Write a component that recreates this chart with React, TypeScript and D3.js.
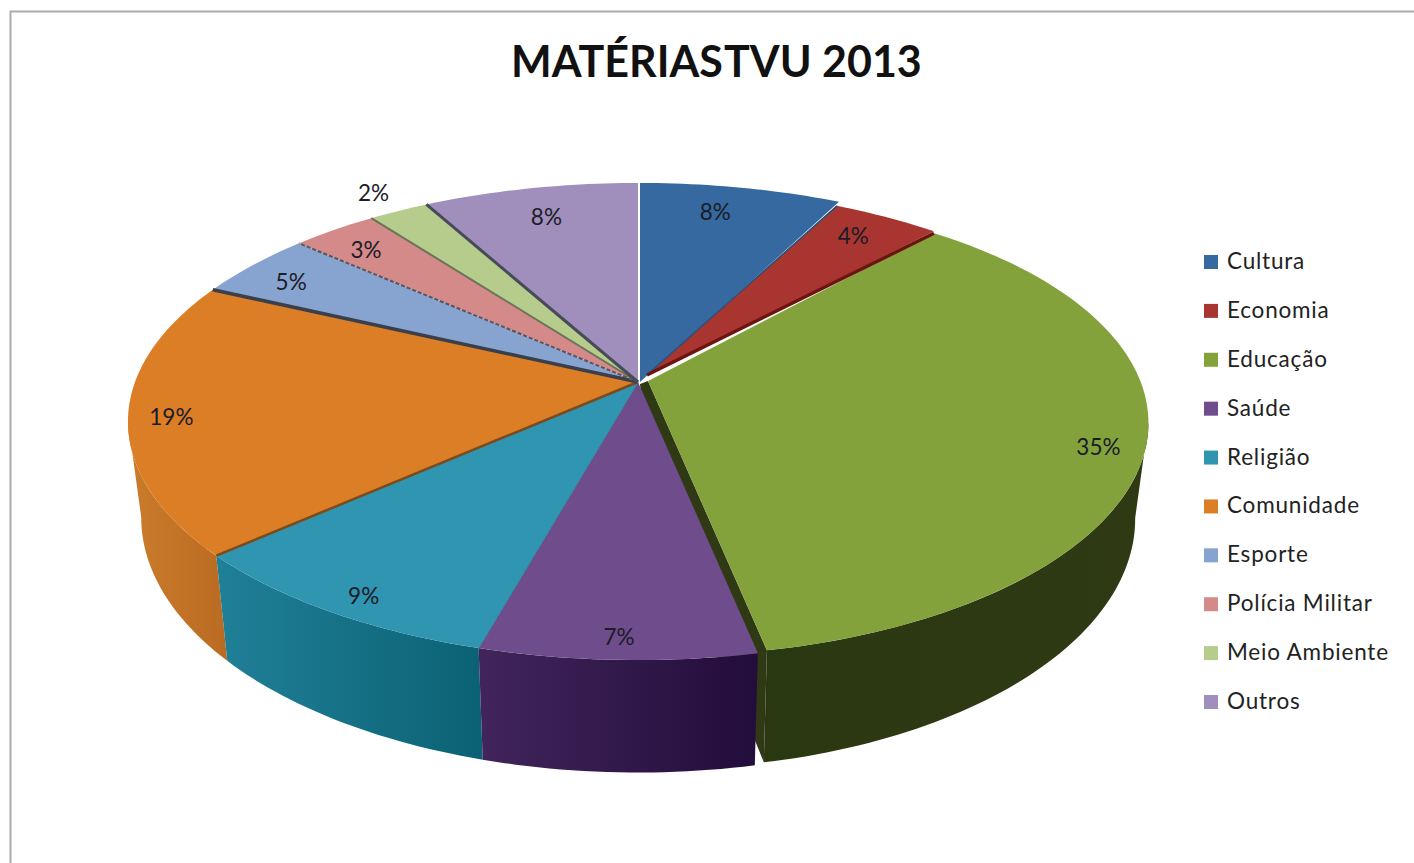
import React from "react";
import * as d3 from "d3";

const categories = ["Cultura", "Economia", "Educação", "Saúde", "Religião", "Comunidade", "Esporte", "Polícia Militar", "Meio Ambiente", "Outros"];
const shares = [7.5, 4.0, 35.3, 7.49, 9.11, 18.6, 4.55, 3.2, 2.25, 8.0];
const topColors = ["#35699F", "#A8352F", "#83A23C", "#6F4C8C", "#2F95B0", "#DB7E26", "#87A3CF", "#D58A8A", "#B5CC8C", "#A08FBC"];
const wallLeft = ["#333", "#333", "#2A3812", "#40245A", "#1F7F97", "#CB7B2B", "#333", "#333", "#333", "#333"];
const wallRight = ["#333", "#333", "#2F3A14", "#230D3C", "#0B6173", "#B96B22", "#333", "#333", "#333", "#333"];
const labelRadius = [0.85, 0.85, 0.915, 0.93, 0.93, 0.917, 0.875, 0.866, 1.12, 0.83];
const labelNudge = [-0.45, 0, 0.6, 0, -0.35, -0.3, -0.4, -0.25, 0, 0];
const apexDx = [2, 9, 10, 0, 0, 0, 0, 0, 0, 0];
const apexDy = [0, -7, -1, 0, 0, 0, 0, 0, 0, 0];
const rimStartDx = [2, 0, 0, 0, 0, 0, 0, 0, 0, 0];
const rimStartDy = [0, 4, 6, 0, 0, 0, 0, 0, 0, 0];
const rimEndDx = [2, 0, 9, 0, 0, 0, 0, 0, 0, 0];
const rimEndDy = [0, 4, -3, 0, 0, 0, 0, 0, 0, 0];
const seamColor = ["", "#2B4F7A", "#6E1410", "", "#2A8AA3", "#7D4A1C", "#3A3F4C", "#5A5560", "#6B7358", "#474B58"];
const seamWidth = [0, 1.5, 3.5, 0, 1, 2.5, 3.5, 2, 2, 3];
const seamDash = ["", "", "", "", "", "", "", "4 2", "", ""];

const W = 1414, H = 863;
const CX = 638, CY = 382, A = 503, B = 232, K = 0.1656;
type P = [number, number];
const project = (theta: number, r = 1): P => {
  const u = r * Math.sin(theta), v = -r * Math.cos(theta), d = 1 - K * v;
  return [CX + (A * u) / d, CY + (B * v) / d];
};
const lower = ([x, y]: P): P => [CX + (x - CX) * 0.974, 475 + (y - CY) * 1.07];
const line = d3.line();
const samples = (a: number, b: number) => {
  const n = Math.max(2, Math.ceil((b - a) / 0.02));
  return d3.range(n + 1).map((i) => a + ((b - a) * i) / n);
};
const total = d3.sum(shares);
const arcs = d3.pie<number>().sort(null)(shares);
const FRONT_A = (99.5 * Math.PI) / 180, FRONT_B = (260.5 * Math.PI) / 180;

const rimShift = (i: number, t: number, p: P): P => {
  const f = (t - arcs[i].startAngle) / (arcs[i].endAngle - arcs[i].startAngle);
  const s = Math.pow(1 - f, 3), e = Math.pow(f, 4);
  const uniform = rimStartDx[i] === rimEndDx[i] && rimStartDy[i] === rimEndDy[i];
  if (uniform) return [p[0] + rimStartDx[i], p[1] + rimStartDy[i]];
  return [p[0] + rimStartDx[i] * s + rimEndDx[i] * e, p[1] + rimStartDy[i] * s + rimEndDy[i] * e];
};
const apex = (i: number): P => [CX + apexDx[i], CY + apexDy[i]];

export default function App() {
  const top = (i: number) => {
    const a = arcs[i];
    const pts = samples(a.startAngle, a.endAngle).map((t) => rimShift(i, t, project(t)));
    return line([apex(i), ...pts])! + "Z";
  };
  const wall = (i: number) => {
    const a = Math.max(arcs[i].startAngle, FRONT_A), b = Math.min(arcs[i].endAngle, FRONT_B);
    if (b <= a) return "";
    const ts = samples(a, b);
    const upper = ts.map((t) => rimShift(i, t, project(t)));
    const low = ts.map((t) => rimShift(i, t, lower(project(t)))).reverse();
    return line([...upper, ...low])! + "Z";
  };
  const legendRows = d3.scalePoint<string>().domain(categories).range([262, 702]);
  const eduT = arcs[2].endAngle;
  const innerWall = line([apex(2), rimShift(2, eduT, project(eduT)), rimShift(2, eduT, lower(project(eduT))), lower(apex(2)), [CX + 2, CY + 2]])! + "Z";

  return (
    <svg width={W} height={H} viewBox={`0 0 ${W} ${H}`} style={{ position: "absolute", left: 0, top: 0, display: "block", background: "#fff" }}>
      <defs>
        {arcs.map((_, i) => (
          <linearGradient key={i} id={`w${i}`} gradientUnits="userSpaceOnUse" x1={i === 5 ? 130 : i === 4 ? 225 : i === 3 ? 485 : 760} x2={i === 5 ? 230 : i === 4 ? 485 : i === 3 ? 755 : 1150} y1="0" y2="0">
            <stop offset="0" stopColor={wallLeft[i]} />
            <stop offset="1" stopColor={wallRight[i]} />
          </linearGradient>
        ))}
      </defs>
      <g>
        <path d={`M10.5 ${H}V11.5H${W}`} fill="none" stroke="#ABABAB" strokeWidth="2" />
        <text x="511" y="77" fontFamily="Lato, 'Open Sans', sans-serif" fontWeight="700" fontSize="43" fill="#111">MATÉRIAS<tspan dx="-8"> TVU 2013</tspan></text>

        <path d={innerWall} fill="#2F3A14" />
        {[2, 5, 4, 3].map((i) => <path key={i} d={wall(i)} fill={`url(#w${i})`} />)}
        {arcs.map((_, i) => <path key={i} d={top(i)} fill={topColors[i]} />)}
        {arcs.map((a, i) => {
          if (!seamColor[i]) return null;
          const [x1, y1] = i === 2 ? apex(1) : apex(i);
          const [x2, y2] = rimShift(i, a.startAngle, project(a.startAngle));
          return <line key={i} x1={x1} y1={y1} x2={x2} y2={y2} stroke={seamColor[i]} strokeWidth={seamWidth[i]} strokeDasharray={seamDash[i] || undefined} />;
        })}
        {arcs.map((a, i) => {
          const mid = (a.startAngle + a.endAngle) / 2 + (labelNudge[i] / total) * 2 * Math.PI;
          const [x, y] = project(mid, labelRadius[i]);
          return <text key={i} x={x} y={y + 8} textAnchor="middle" fontFamily="Lato, sans-serif" fontSize="22.5" fill="#1C1C28">{Math.round(shares[i])}%</text>;
        })}
        {categories.map((c, i) => {
          const y = legendRows(c)!;
          return (
            <g key={c}>
              <rect x="1204" y={y - 7} width="14" height="14" fill={topColors[i]} />
              <text x="1227" y={y + 7} fontFamily="Lato, sans-serif" fontSize="22.5" letterSpacing="0.8" fill="#222">{c}</text>
            </g>
          );
        })}
      </g>
    </svg>
  );
}
